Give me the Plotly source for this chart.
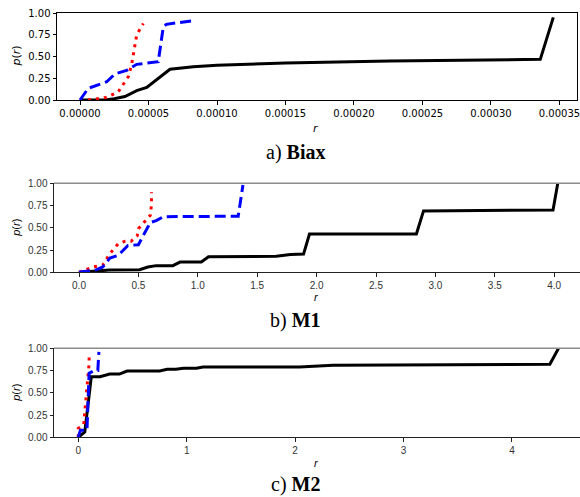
import plotly.graph_objects as go

W, H = 580, 497

# ---------------- data ----------------
# Panel a) Biax
a_black_x = [0, 0.000018, 0.000025, 0.0000328, 0.0000414, 0.0000487, 0.0000657, 0.0000827, 0.0001, 0.00015, 0.000226, 0.000336, 0.0003455]
a_black_y = [0, 0.0, 0.015, 0.04, 0.107, 0.145, 0.353, 0.383, 0.40, 0.425, 0.448, 0.467, 0.95]
a_red_x = [0.0000058, 0.0000195, 0.000028, 0.0000353, 0.0000377, 0.0000401, 0.0000414, 0.0000462]
a_red_y = [0, 0.03, 0.095, 0.27, 0.41, 0.61, 0.75, 0.88]
a_blue_x = [0, 0.000006, 0.0000195, 0.0000255, 0.000034, 0.0000414, 0.0000571, 0.0000608, 0.000063, 0.0000815]
a_blue_y = [0, 0.134, 0.21, 0.30, 0.34, 0.41, 0.44, 0.84, 0.87, 0.91]

# Panel b) M1
b_black_x = [0, 0.26, 0.51, 0.58, 0.65, 0.79, 0.85, 1.03, 1.09, 1.66, 1.78, 1.89, 1.94, 2.84, 2.90, 3.35, 3.99, 4.03]
b_black_y = [0, 0.026, 0.03, 0.06, 0.075, 0.075, 0.115, 0.115, 0.175, 0.18, 0.2, 0.205, 0.43, 0.43, 0.69, 0.695, 0.70, 1.0]
b_red_x = [0, 0.12, 0.2, 0.26, 0.33, 0.39, 0.44, 0.49, 0.5, 0.54, 0.6, 0.61, 0.61]
b_red_y = [0, 0.06, 0.08, 0.21, 0.32, 0.35, 0.35, 0.41, 0.49, 0.55, 0.64, 0.76, 0.9]
b_blue_x = [0, 0.15, 0.2, 0.26, 0.33, 0.41, 0.5, 0.6, 0.65, 0.71, 1.34, 1.38]
b_blue_y = [0, 0.03, 0.06, 0.16, 0.19, 0.30, 0.31, 0.56, 0.58, 0.625, 0.63, 0.98]

# Panel c) M2
c_black_x = [0, 0.06, 0.12, 0.2, 0.29, 0.38, 0.45, 0.75, 0.82, 0.9, 0.97, 1.09, 1.15, 2.04, 2.35, 4.35, 4.43]
c_black_y = [0, 0.06, 0.68, 0.68, 0.71, 0.71, 0.745, 0.745, 0.764, 0.764, 0.775, 0.775, 0.79, 0.79, 0.81, 0.82, 1.0]
c_red_x = [0, 0.0, 0.05, 0.08, 0.09, 0.1, 0.1]
c_red_y = [0, 0.1, 0.14, 0.5, 0.7, 0.83, 0.92]
c_blue_x = [0, 0.02, 0.08, 0.1, 0.15, 0.18, 0.19]
c_blue_y = [0, 0.08, 0.08, 0.72, 0.75, 0.75, 0.96]

y_ticks = [0, 0.25, 0.5, 0.75, 1.0]
a_xticks = [0, 0.00005, 0.0001, 0.00015, 0.0002, 0.00025, 0.0003, 0.00035]
b_xticks = [0, 0.5, 1.0, 1.5, 2.0, 2.5, 3.0, 3.5, 4.0]
c_xticks = [0, 1, 2, 3, 4]
captions = ["a) <b>Biax</b>", "b) <b>M1</b>", "c) <b>M2</b>"]

# ---------------- layout helpers ----------------
def px_x(x):
    return x / W

def px_y(y):
    return 1 - y / H

panels = [
    # (left, right, top, bottom) in pixels
    (57, 577, 13, 100),
    (54, 580, 183.3, 272.3),
    (54, 580, 348.3, 437.3),
]

fig = go.Figure()

series = [
    (a_black_x, a_black_y, a_red_x, a_red_y, a_blue_x, a_blue_y),
    (b_black_x, b_black_y, b_red_x, b_red_y, b_blue_x, b_blue_y),
    (c_black_x, c_black_y, c_red_x, c_red_y, c_blue_x, c_blue_y),
]

for i, (bx, by, rx, ry, ux, uy) in enumerate(series):
    xa = "x" if i == 0 else f"x{i+1}"
    ya = "y" if i == 0 else f"y{i+1}"
    fig.add_trace(go.Scatter(x=bx, y=by, mode="lines", xaxis=xa, yaxis=ya,
                             line=dict(color="black", width=3), showlegend=False))
    fig.add_trace(go.Scatter(x=rx, y=ry, mode="lines", xaxis=xa, yaxis=ya,
                             line=dict(color="red", width=3, dash="3px,5px"), showlegend=False))
    fig.add_trace(go.Scatter(x=ux, y=uy, mode="lines", xaxis=xa, yaxis=ya,
                             line=dict(color="blue", width=3, dash="11px,5px"), showlegend=False))

xranges = [[-0.0000168, 0.0003628], [-0.2104, 4.217], [-0.224, 4.628]]
xticks = [a_xticks, b_xticks, c_xticks]
xfmt = [".5f", ".1f", "d"]

layout = dict(
    width=W, height=H,
    margin=dict(l=0, r=0, t=0, b=0, autoexpand=False),
    paper_bgcolor="white", plot_bgcolor="white",
)

for i, (l, r, t, b) in enumerate(panels):
    xk = "xaxis" if i == 0 else f"xaxis{i+1}"
    yk = "yaxis" if i == 0 else f"yaxis{i+1}"
    xa_anchor = "y" if i == 0 else f"y{i+1}"
    ya_anchor = "x" if i == 0 else f"x{i+1}"
    if i == 0:
        tfont = dict(family="DejaVu Sans", size=10, color="black")
        lcolor = "black"
        mirror = True
    else:
        tfont = dict(family="Liberation Sans", size=10, color="#333333")
        lcolor = "#222222"
        mirror = False
    layout[xk] = dict(
        domain=[px_x(l), px_x(r)], anchor=xa_anchor, range=xranges[i],
        tickvals=xticks[i], tickformat=xfmt[i], showgrid=False, zeroline=False,
        showline=True, linecolor=lcolor, linewidth=1, mirror=mirror,
        ticks="outside", ticklen=3.5, tickwidth=1, tickcolor=lcolor, tickfont=tfont,
        automargin=False, ticklabeloverflow="allow",
    )
    layout[yk] = dict(
        domain=[px_y(b), px_y(t)], anchor=ya_anchor, range=[0, 1],
        tickvals=y_ticks, tickformat=".2f", showgrid=False, zeroline=False,
        showline=True, linecolor=lcolor, linewidth=1, mirror=mirror,
        ticks="outside", ticklen=3.5, tickwidth=1, tickcolor=lcolor, tickfont=tfont,
        automargin=False, ticklabeloverflow="allow",
    )

fig.update_layout(**layout)

# gray top lines for panels b and c
shapes = []
for (l, r, t, b) in panels[1:]:
    shapes.append(dict(type="line", xref="paper", yref="paper",
                       x0=px_x(l), x1=1, y0=px_y(t), y1=px_y(t),
                       line=dict(color="#8c8c8c", width=1.5)))
fig.update_layout(shapes=shapes)

annotations = []
r_label_y = [128, 297, 463]
cap_y = [152, 320, 484]
for i, (l, r, t, b) in enumerate(panels):
    fam = "DejaVu Sans" if i == 0 else "Liberation Sans"
    annotations.append(dict(text="<i>p</i>(<i>r</i>)", xref="paper", yref="paper",
                            x=px_x(16), y=px_y((t + b) / 2), textangle=-90,
                            showarrow=False, xanchor="center", yanchor="middle",
                            font=dict(family=fam, size=11, color="black")))
    annotations.append(dict(text="<i>r</i>", xref="paper", yref="paper",
                            x=px_x(316), y=px_y(r_label_y[i]),
                            showarrow=False, xanchor="center", yanchor="middle",
                            font=dict(family=fam, size=11, color="black")))
    annotations.append(dict(text=captions[i], xref="paper", yref="paper",
                            x=px_x(295), y=px_y(cap_y[i]),
                            showarrow=False, xanchor="center", yanchor="middle",
                            font=dict(family="Liberation Serif", size=20, color="black")))
fig.update_layout(annotations=annotations)

fig.write_html("out.html", config={"displayModeBar": False},
               post_script="document.body.style.margin='0';document.body.style.overflow='hidden';")
